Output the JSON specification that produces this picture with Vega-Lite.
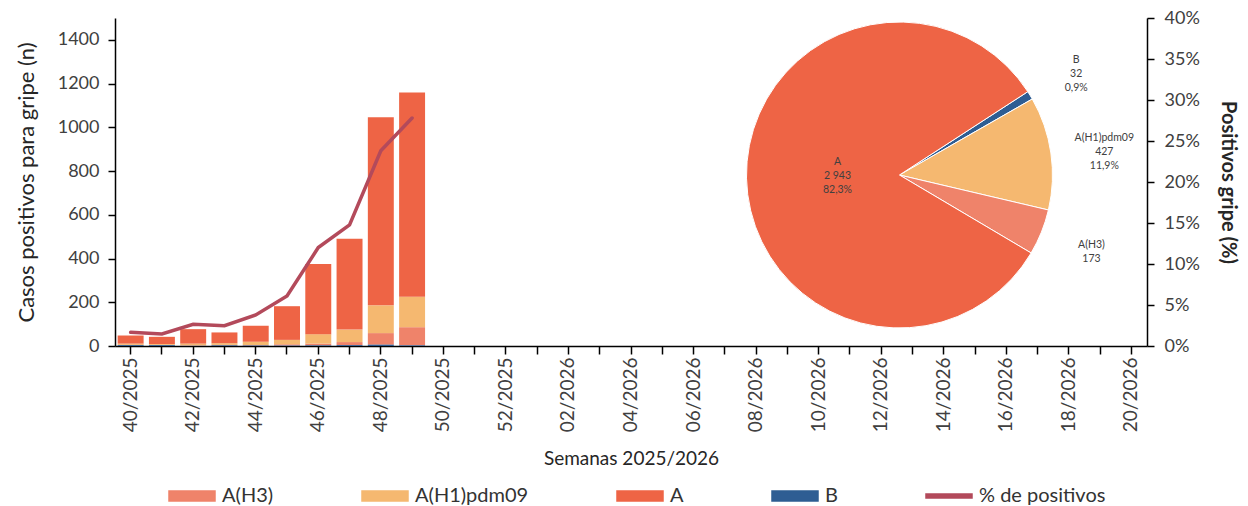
{
  "$schema": "https://vega.github.io/schema/vega-lite/v6.json",
  "width": 1032,
  "height": 328,
  "autosize": {"type": "none"},
  "padding": {"left": 115, "top": 18, "right": 101, "bottom": 160},
  "background": "white",
  "config": {
    "font": "Lato",
    "view": {"stroke": null},
    "axis": {"grid": false, "domainColor": "#000000", "domainWidth": 1.5, "tickColor": "#000000", "tickWidth": 1.5, "labelColor": "#404040", "titleColor": "#262626", "titleFontWeight": "normal"}
  },
  "datasets": {
    "barras": [
      {"semana": "40/2025", "tipo": "A(H3)", "casos": 1}, {"semana": "40/2025", "tipo": "A(H1)pdm09", "casos": 6}, {"semana": "40/2025", "tipo": "A", "casos": 37}, {"semana": "40/2025", "tipo": "B", "casos": 4},
      {"semana": "41/2025", "tipo": "A(H3)", "casos": 1}, {"semana": "41/2025", "tipo": "A(H1)pdm09", "casos": 4}, {"semana": "41/2025", "tipo": "A", "casos": 33}, {"semana": "41/2025", "tipo": "B", "casos": 4},
      {"semana": "42/2025", "tipo": "A(H3)", "casos": 2}, {"semana": "42/2025", "tipo": "A(H1)pdm09", "casos": 8}, {"semana": "42/2025", "tipo": "A", "casos": 66}, {"semana": "42/2025", "tipo": "B", "casos": 1},
      {"semana": "43/2025", "tipo": "A(H3)", "casos": 2}, {"semana": "43/2025", "tipo": "A(H1)pdm09", "casos": 8}, {"semana": "43/2025", "tipo": "A", "casos": 49}, {"semana": "43/2025", "tipo": "B", "casos": 3},
      {"semana": "44/2025", "tipo": "A(H3)", "casos": 3}, {"semana": "44/2025", "tipo": "A(H1)pdm09", "casos": 15}, {"semana": "44/2025", "tipo": "A", "casos": 73}, {"semana": "44/2025", "tipo": "B", "casos": 2},
      {"semana": "45/2025", "tipo": "A(H3)", "casos": 6}, {"semana": "45/2025", "tipo": "A(H1)pdm09", "casos": 20}, {"semana": "45/2025", "tipo": "A", "casos": 154}, {"semana": "45/2025", "tipo": "B", "casos": 2},
      {"semana": "46/2025", "tipo": "A(H3)", "casos": 8}, {"semana": "46/2025", "tipo": "A(H1)pdm09", "casos": 43}, {"semana": "46/2025", "tipo": "A", "casos": 321}, {"semana": "46/2025", "tipo": "B", "casos": 3},
      {"semana": "47/2025", "tipo": "A(H3)", "casos": 14}, {"semana": "47/2025", "tipo": "A(H1)pdm09", "casos": 57}, {"semana": "47/2025", "tipo": "A", "casos": 416}, {"semana": "47/2025", "tipo": "B", "casos": 4},
      {"semana": "48/2025", "tipo": "A(H3)", "casos": 53}, {"semana": "48/2025", "tipo": "A(H1)pdm09", "casos": 127}, {"semana": "48/2025", "tipo": "A", "casos": 860}, {"semana": "48/2025", "tipo": "B", "casos": 6},
      {"semana": "49/2025", "tipo": "A(H3)", "casos": 83}, {"semana": "49/2025", "tipo": "A(H1)pdm09", "casos": 139}, {"semana": "49/2025", "tipo": "A", "casos": 934}, {"semana": "49/2025", "tipo": "B", "casos": 3}
    ],
    "linea": [
      {"semana": "40/2025", "pct": 0.0167}, {"semana": "41/2025", "pct": 0.0146}, {"semana": "42/2025", "pct": 0.0265}, {"semana": "43/2025", "pct": 0.0248}, {"semana": "44/2025", "pct": 0.0378},
      {"semana": "45/2025", "pct": 0.061}, {"semana": "46/2025", "pct": 0.12}, {"semana": "47/2025", "pct": 0.1476}, {"semana": "48/2025", "pct": 0.238}, {"semana": "49/2025", "pct": 0.278}
    ],
    "tarta": [
      {"tipo": "B", "casos": 32, "orden": 1, "etiqueta": "B\n32\n0,9%"},
      {"tipo": "A(H1)pdm09", "casos": 427, "orden": 2, "etiqueta": "A(H1)pdm09\n427\n11,9%"},
      {"tipo": "A(H3)", "casos": 173, "orden": 3, "etiqueta": "A(H3)\n173"},
      {"tipo": "A", "casos": 2943, "orden": 4, "etiqueta": "A\n2 943\n82,3%"}
    ]
  },
  "layer": [
    {
      "data": {"name": "barras"},
      "mark": {"type": "bar"},
      "encoding": {
        "x": {
          "field": "semana", "type": "nominal", "sort": null,
          "scale": {
            "domain": ["40/2025","41/2025","42/2025","43/2025","44/2025","45/2025","46/2025","47/2025","48/2025","49/2025","50/2025","51/2025","52/2025","01/2026","02/2026","03/2026","04/2026","05/2026","06/2026","07/2026","08/2026","09/2026","10/2026","11/2026","12/2026","13/2026","14/2026","15/2026","16/2026","17/2026","18/2026","19/2026","20/2026"],
            "paddingInner": 0.17, "paddingOuter": 0.085
          },
          "axis": {
            "title": "Semanas 2025/2026", "titleFontSize": 19, "titlePadding": 18,
            "labelAngle": -90, "labelFontSize": 19, "labelPadding": 3, "tickSize": 8, "labelOverlap": false,
            "labelExpr": "toNumber(substring(datum.value, 0, 2)) % 2 == 0 ? datum.value : ''"
          }
        },
        "y": {
          "field": "casos", "type": "quantitative", "aggregate": "sum", "stack": "zero",
          "scale": {"domain": [0, 1500]},
          "axis": {"title": "Casos positivos para gripe (n)", "titleFontSize": 22, "titlePadding": 19, "format": "d", "values": [0,200,400,600,800,1000,1200,1400], "labelFontSize": 18, "labelPadding": 9, "tickSize": 7}
        },
        "color": {
          "field": "tipo", "type": "nominal",
          "sort": ["A(H3)", "A(H1)pdm09", "A", "B"],
          "scale": {"domain": ["A(H3)", "A(H1)pdm09", "A", "B", "% de positivos"], "range": ["#EF836A", "#F5B870", "#EE6445", "#2E5D93", "#B34A5B"]},
          "legend": {
            "orient": "none", "legendX": 53, "legendY": 454, "direction": "horizontal", "columns": 5, "title": null,
            "padding": 0, "labelFontSize": 20, "labelColor": "#333333", "columnPadding": 85, "labelOffset": 6, "symbolSize": 2116,
            "encode": {"symbols": {"update": {
              "shape": {"signal": "datum.value === '% de positivos' ? 'M-1,-0.09H1V0.09H-1Z' : 'M-1,-0.22H1V0.22H-1Z'"},
              "fill": {"signal": "scale('color', datum.value)"},
              "stroke": {"value": "transparent"},
              "opacity": {"value": 1}
            }}}
          }
        }
      }
    },
    {
      "data": {"name": "linea"},
      "mark": {"type": "line", "strokeWidth": 3.5, "strokeCap": "round"},
      "encoding": {
        "x": {"field": "semana", "type": "nominal", "sort": null},
        "y": {
          "field": "pct", "type": "quantitative",
          "scale": {"domain": [0, 0.4]},
          "axis": {"orient": "right", "title": "Positivos gripe (%)", "titleFontSize": 20, "titleFontWeight": "bold", "titlePadding": 18, "format": ".0%", "values": [0,0.05,0.1,0.15,0.2,0.25,0.3,0.35,0.4], "labelFontSize": 18, "labelPadding": 10, "tickSize": 7}
        },
        "color": {"datum": "% de positivos"}
      }
    },
    {
      "data": {"name": "tarta"},
      "mark": {"type": "arc", "outerRadius": 153, "stroke": "white", "strokeWidth": 1},
      "encoding": {
        "x": {"datum": "13/2026", "bandPosition": 0},
        "y": {"datum": 782, "type": "quantitative", "scale": {"domain": [0, 1500]}, "axis": null},
        "theta": {"field": "casos", "type": "quantitative", "stack": true, "scale": {"range": [0.9948, 7.278]}},
        "order": {"field": "orden", "type": "quantitative"},
        "color": {"field": "tipo", "type": "nominal"}
      }
    },
    {
      "data": {"name": "tarta"},
      "mark": {"type": "text", "radius": 207, "dy": -7, "fontSize": 10.5, "lineBreak": "\n", "lineHeight": 14, "align": "center", "baseline": "middle", "color": "#404040"},
      "encoding": {
        "x": {"datum": "13/2026", "bandPosition": 0},
        "y": {"datum": 782, "type": "quantitative", "scale": {"domain": [0, 1500]}, "axis": null},
        "theta": {"field": "casos", "type": "quantitative", "stack": true},
        "order": {"field": "orden", "type": "quantitative"},
        "text": {"condition": {"test": "datum.tipo !== 'A'", "field": "etiqueta"}, "value": ""}
      }
    },
    {
      "data": {"name": "tarta"},
      "mark": {"type": "text", "radius": 62, "dy": -14, "fontSize": 10.5, "lineBreak": "\n", "lineHeight": 14, "align": "center", "baseline": "middle", "color": "#404040"},
      "encoding": {
        "x": {"datum": "13/2026", "bandPosition": 0},
        "y": {"datum": 782, "type": "quantitative", "scale": {"domain": [0, 1500]}, "axis": null},
        "theta": {"field": "casos", "type": "quantitative", "stack": true},
        "order": {"field": "orden", "type": "quantitative"},
        "text": {"condition": {"test": "datum.tipo === 'A'", "field": "etiqueta"}, "value": ""}
      }
    }
  ],
  "resolve": {"scale": {"y": "independent"}, "axis": {"y": "independent"}}
}
